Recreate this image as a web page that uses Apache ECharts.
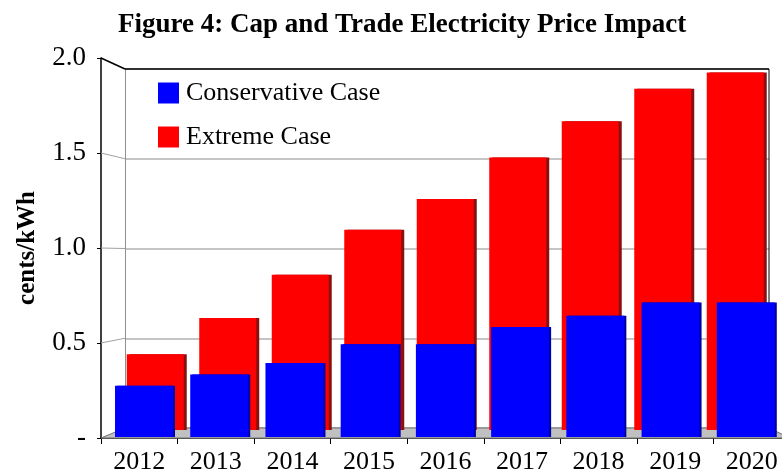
<!DOCTYPE html>
<html>
<head>
<meta charset="utf-8">
<script src="https://cdn.jsdelivr.net/npm/echarts@6/dist/echarts.min.js"></script>
<style>
  html, body { margin: 0; padding: 0; background: #fff; }
  #chart { width: 782px; height: 470px; }
</style>
</head>
<body>
<div id="chart"></div>
<script>
var categories = ['2012', '2013', '2014', '2015', '2016', '2017', '2018', '2019', '2020'];
var conservative = [0.27, 0.33, 0.39, 0.49, 0.49, 0.58, 0.64, 0.71, 0.71];
var extreme = [0.42, 0.62, 0.86, 1.11, 1.28, 1.51, 1.71, 1.89, 1.98];
var yTicks = [0, 0.5, 1.0, 1.5, 2.0];

var serif = 'Liberation Serif';

// front plane and back wall, in pixels
var front = { left: 101, top: 58, right: -8, bottom: 32 };
var back = { left: 125, top: 69, right: 13, bottom: 42 };

function hiddenX(grid) {
    return { type: 'category', data: categories, gridIndex: grid, show: false };
}
function hiddenY(grid) {
    return { type: 'value', gridIndex: grid, min: 0, max: 2, show: false };
}

var option = {
    animation: false,
    title: {
        text: 'Figure 4: Cap and Trade Electricity Price Impact',
        left: 113,
        top: 7,
        textStyle: { fontFamily: serif, fontSize: 27, fontWeight: 'bold', color: '#000' }
    },
    legend: {
        data: ['Conservative Case', 'Extreme Case'],
        orient: 'vertical',
        left: 153,
        top: 75,
        itemWidth: 21,
        itemHeight: 21,
        itemGap: 18,
        icon: 'rect',
        textStyle: { fontFamily: serif, fontSize: 26, color: '#000', padding: [0, 0, 0, 2] }
    },
    grid: [
        { left: front.left, top: front.top, right: front.right, bottom: front.bottom, outerBoundsMode: 'none' },
        { left: back.left, top: back.top, right: back.right, bottom: back.bottom, outerBoundsMode: 'none' },
        { left: 119, top: 69, right: 10.5, bottom: 40, outerBoundsMode: 'none' },
        { left: 106.4, top: 58, right: -1.4, bottom: 33, outerBoundsMode: 'none' }
    ],
    xAxis: [
        {
            type: 'category', data: categories, gridIndex: 0,
            axisLine: { lineStyle: { color: '#000', width: 1.5 } },
            axisTick: { show: true, length: 6, lineStyle: { color: '#000' } },
            axisLabel: { fontFamily: serif, fontSize: 26, color: '#000', margin: 11 }
        },
        hiddenX(1), hiddenX(2), hiddenX(3)
    ],
    yAxis: [
        {
            type: 'value', gridIndex: 0, min: 0, max: 2, interval: 0.5,
            name: 'cents/kWh',
            nameLocation: 'middle',
            nameGap: 61,
            nameRotate: 90,
            nameTextStyle: { fontFamily: serif, fontSize: 25, fontWeight: 'bold', color: '#000' },
            axisLine: { show: true, lineStyle: { color: '#000', width: 1.5 } },
            axisTick: { show: true, length: 4, lineStyle: { color: '#000' } },
            splitLine: { show: false },
            axisLabel: {
                fontFamily: serif, fontSize: 27, color: '#000', margin: 15,
                formatter: function (v) { return v === 0 ? '-' : v.toFixed(1); }
            }
        },
        {
            type: 'value', gridIndex: 1, min: 0, max: 2, interval: 0.5,
            axisLine: { show: true, lineStyle: { color: '#909090' } },
            axisTick: { show: false },
            axisLabel: { show: false },
            splitLine: { show: true, lineStyle: { color: '#b0b0b0', width: 1.5 } }
        },
        hiddenY(2), hiddenY(3)
    ],
    series: [
        {
            name: 'Extreme Case',
            type: 'bar',
            xAxisIndex: 2, yAxisIndex: 2,
            data: extreme,
            barWidth: 57,
            z: 3,
            itemStyle: { color: '#ff0000', shadowColor: '#8a1010', shadowOffsetX: 3, shadowBlur: 0 }
        },
        {
            name: 'Conservative Case',
            type: 'bar',
            xAxisIndex: 3, yAxisIndex: 3,
            data: conservative,
            barWidth: 58,
            z: 4,
            itemStyle: { color: '#0000ff', shadowColor: '#0000a0', shadowOffsetX: 2, shadowBlur: 0 }
        }
    ]
};

var myChart = echarts.init(document.getElementById('chart'));
myChart.setOption(option, true);

// 3-D frame: floor, back wall edges and the slanted tick connectors
var W = 782, H = 470;
var bl = back.left, br = W - back.right;
var fl = front.left, fr = W - front.right;
var elements = [];
var fy0 = myChart.convertToPixel({ yAxisIndex: 0 }, 0);
var by0 = myChart.convertToPixel({ yAxisIndex: 1 }, 0);
var by2 = myChart.convertToPixel({ yAxisIndex: 1 }, 2);
elements.push({
    type: 'polygon', z: 1, silent: true,
    shape: { points: [[fl, fy0], [bl, by0], [br, by0], [fr, fy0]] },
    style: { fill: '#c0c0c0', stroke: '#707070', lineWidth: 1 }
});
yTicks.forEach(function (t) {
    if (t === 0) return;
    var fy = myChart.convertToPixel({ yAxisIndex: 0 }, t);
    var by = myChart.convertToPixel({ yAxisIndex: 1 }, t);
    elements.push({
        type: 'line', z: 1, silent: true,
        shape: { x1: fl, y1: fy, x2: bl, y2: by },
        style: { stroke: t === 2 ? '#000' : '#a0a0a0', lineWidth: t === 2 ? 1.5 : 1 }
    });
});
elements.push({
    type: 'line', z: 1, silent: true,
    shape: { x1: bl, y1: by2, x2: br, y2: by2 },
    style: { stroke: '#000', lineWidth: 1.5 }
});
elements.push({
    type: 'line', z: 1, silent: true,
    shape: { x1: br, y1: by2, x2: br, y2: by0 },
    style: { stroke: '#000', lineWidth: 1 }
});
myChart.setOption({ graphic: { elements: elements } });

window.onresize = function () {
    myChart.resize();
};
</script>
</body>
</html>
